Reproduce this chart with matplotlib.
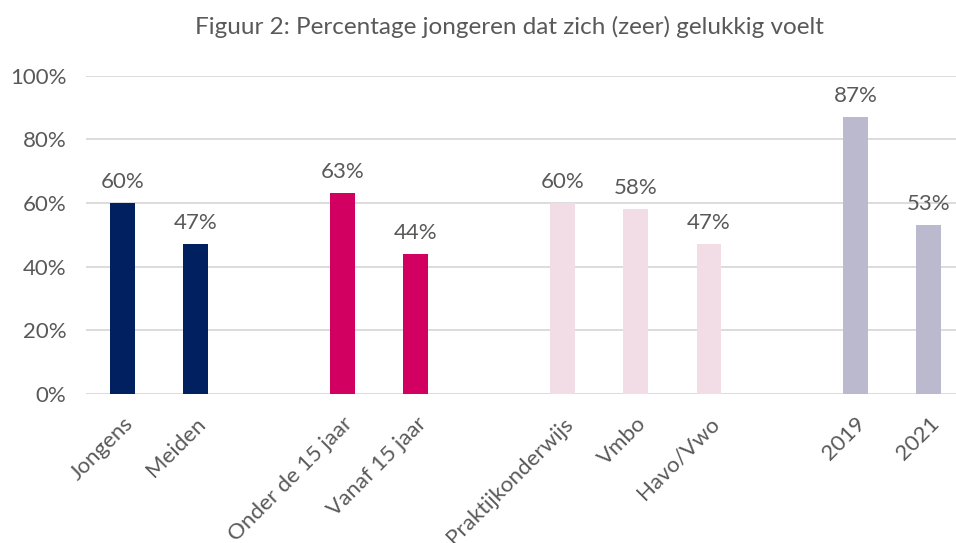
import matplotlib.pyplot as plt
from matplotlib.ticker import FuncFormatter

plt.rcParams['font.family'] = ['Lato', 'DejaVu Sans']

# slots with '' are empty spacers between the groups
categories = ['Jongens', 'Meiden', '',
              'Onder de 15 jaar', 'Vanaf 15 jaar', '',
              'Praktijkonderwijs', 'Vmbo', 'Havo/Vwo', '',
              '2019', '2021']
values = [60, 47, None, 63, 44, None, 60, 58, 47, None, 87, 53]
colors = ['#002060', '#002060', None,
          '#D20060', '#D20060', None,
          '#F2DCE5', '#F2DCE5', '#F2DCE5', None,
          '#BBB9CE', '#BBB9CE']
yticks = [0, 20, 40, 60, 80, 100]

text_color = '#595959'
grid_color = '#D9D9D9'

fig = plt.figure(figsize=(9.56, 5.43), dpi=100)
ax = fig.add_axes([86 / 956, 0.2744, (965.5 - 86) / 956, 0.5862])

for i, (v, c) in enumerate(zip(values, colors)):
    if v is None:
        continue
    ax.bar(i, v, width=0.34, color=c, zorder=3)
    ax.annotate('{}%'.format(v), (i, v), xytext=(0, 8), textcoords='offset points',
                ha='center', va='bottom', fontsize=16, color=text_color)

ax.set_xlim(-0.5, len(categories) - 0.5)
ax.set_ylim(0, 100)
ax.set_yticks(yticks)
ax.yaxis.set_major_formatter(FuncFormatter(lambda y, _: '{:.0f}%'.format(y)))
ax.grid(axis='y', color=grid_color, linewidth=1.3, zorder=0)
ax.set_axisbelow(True)

ax.set_xticks(range(len(categories)))
ax.set_xticklabels(categories, rotation=45, ha='right', rotation_mode='anchor')

for s in ax.spines.values():
    s.set_visible(False)
ax.tick_params(axis='both', length=0, labelsize=16, colors=text_color)
ax.tick_params(axis='y', pad=14)
ax.tick_params(axis='x', pad=14)

fig.text(509 / 956, 1 - 27 / 543, 'Figuur 2: Percentage jongeren dat zich (zeer) gelukkig voelt',
         ha='center', va='center', fontsize=17.5, color=text_color)

fig.savefig('out.png', dpi=100)
